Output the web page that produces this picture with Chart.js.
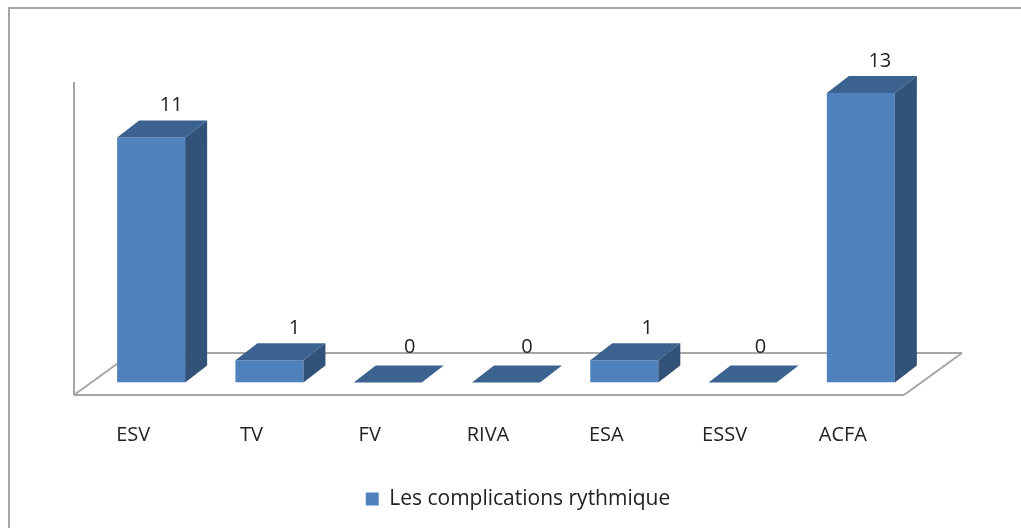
<!DOCTYPE html>
<html>
<head>
<meta charset="utf-8">
<title>Les complications rythmique</title>
<script src="https://cdn.jsdelivr.net/npm/chart.js@4"></script>
<style>
  html, body { margin: 0; padding: 0; background: #fff; overflow: hidden; }
  #wrap { position: relative; width: 1021px; height: 528px; overflow: hidden; }
  #frame { position: absolute; left: 8px; top: 7px; width: 1100px; height: 600px; border: 2px solid #a6a6a6; box-sizing: border-box; }
  canvas { position: absolute; left: 0; top: 0; }
</style>
</head>
<body>
<div id="wrap">
  <div id="frame"></div>
  <canvas id="chart" width="1021" height="528"></canvas>
</div>
<script>
const categories = ['ESV', 'TV', 'FV', 'RIVA', 'ESA', 'ESSV', 'ACFA'];
const seriesName = 'Les complications rythmique';
const values = [11, 1, 0, 0, 1, 0, 13];

// Fake 3D look: depth of the columns and of the floor
const DEPTH_X = 22;
const DEPTH_Y = 17;
const FRONT = '#4f81bd';
const TOP = '#3c6290';
const SIDE = '#335279';
const LINE = '#a6a6a6';
// The value labels do not sit at the same spot over each column
const labelNudge = [20, 25, 22, 21, 23, 18, 19];

function poly(ctx, pts, color) {
  ctx.fillStyle = color;
  ctx.beginPath();
  pts.forEach((p, i) => i ? ctx.lineTo(p[0], p[1]) : ctx.moveTo(p[0], p[1]));
  ctx.closePath();
  ctx.fill();
}

function line(ctx, x1, y1, x2, y2) {
  ctx.beginPath();
  ctx.moveTo(x1, y1);
  ctx.lineTo(x2, y2);
  ctx.stroke();
}

// Floor and wall behind the columns
const floorPlugin = {
  id: 'floor',
  // legend is not centred under the plot, move it over
  afterLayout(chart) {
    chart.legend.left += 12;
    chart.legend.right += 12;
  },
  beforeDatasetsDraw(chart) {
    const { ctx, chartArea } = chart;
    const base = chart.scales.y.getPixelForValue(0);
    const front = base + 12.5;
    const back = base - 29.5;
    const left = chartArea.left - 18;
    const right = chartArea.right - 16;
    ctx.save();
    ctx.strokeStyle = LINE;
    ctx.lineWidth = 2;
    line(ctx, left, 82, left, front);
    line(ctx, left, front, right, front);
    line(ctx, left, front, left + 58, back);
    line(ctx, left + 58, back, right + 58, back);
    line(ctx, right, front, right + 58, back);
    ctx.restore();
  }
};

// Top and side faces of each column, plus the value labels
const columnPlugin = {
  id: 'columns',
  afterDatasetsDraw(chart) {
    const { ctx } = chart;
    const base = chart.scales.y.getPixelForValue(0);
    chart.getDatasetMeta(0).data.forEach((bar, i) => {
      const half = bar.width / 2;
      const l = bar.x - half;
      const r = bar.x + half;
      const t = bar.y;
      poly(ctx, [[l, t], [r, t], [r + DEPTH_X, t - DEPTH_Y], [l + DEPTH_X, t - DEPTH_Y]], TOP);
      if (values[i] > 0) {
        poly(ctx, [[r, t], [r + DEPTH_X, t - DEPTH_Y], [r + DEPTH_X, base - DEPTH_Y], [r, base]], SIDE);
      }
      ctx.save();
      ctx.font = '20px "Open Sans"';
      ctx.fillStyle = '#222';
      ctx.textAlign = 'center';
      ctx.textBaseline = 'middle';
      ctx.fillText(values[i], bar.x + labelNudge[i], t - (values[i] > 0 ? 32 : 35));
      ctx.restore();
    });
  }
};

new Chart(document.getElementById('chart'), {
  type: 'bar',
  data: {
    labels: categories,
    datasets: [{
      label: seriesName,
      data: values,
      backgroundColor: FRONT,
      borderWidth: 0,
      barPercentage: 0.575,
      categoryPercentage: 1
    }]
  },
  options: {
    responsive: false,
    animation: false,
    layout: { padding: { left: 92, right: 101, top: 70.7, bottom: 8.5 } },
    plugins: {
      tooltip: { enabled: false },
      legend: {
        position: 'bottom',
        labels: {
          color: '#222',
          boxWidth: 13,
          boxHeight: 13,
          padding: 6,
          font: { family: '"Open Sans"', size: 21 }
        }
      }
    },
    scales: {
      x: {
        grid: { display: false },
        border: { display: false },
        afterFit(scale) { scale.height = 100; },
        ticks: {
          color: '#222',
          padding: 33,
          labelOffset: -18,
          maxRotation: 0,
          font: { family: '"Open Sans"', size: 20 }
        }
      },
      y: {
        display: false,
        min: 0,
        max: 14
      }
    }
  },
  plugins: [floorPlugin, columnPlugin]
});
</script>
</body>
</html>
